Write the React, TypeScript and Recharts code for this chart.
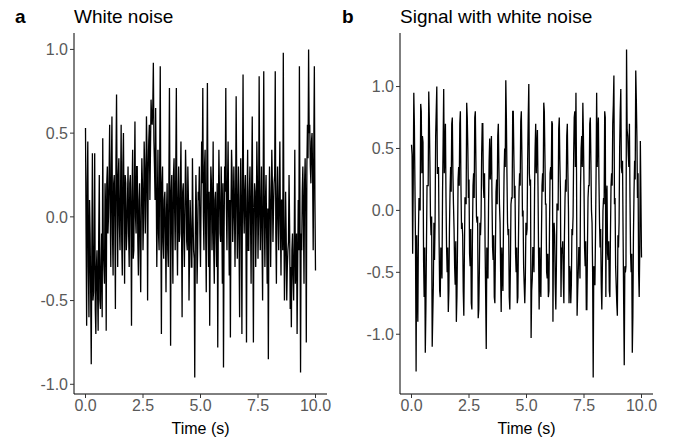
import { LineChart, Line, XAxis, YAxis } from 'recharts'

// sample spacing of both recordings (seconds); a half-step sample sits between each pair
const sampleStep = 0.05

const timeTicks = [0, 2.5, 5, 7.5, 10]
const ampTicks = [-1, -0.5, 0, 0.5, 1]

// panel a: white noise (at 0, 0.05, 0.10 ... s)
const whiteNoise = [
  0.53, -0.65, 0.45, -0.6, -0.1, -0.88, 0.38, -0.45, 0.38, -0.7,
  -0.2, -0.68, 0.25, -0.55, -0.1, 0.47, -0.3, 0.2, -0.68, 0.3,
  0.0, 0.55, -0.3, 0.6, -0.35, 0.25, -0.55, 0.73, -0.3, 0.35,
  -0.2, 0.55, -0.35, 0.5, -0.4, 0.2, -0.1, 0.3, -0.3, 0.25,
  -0.65, 0.4, -0.2, 0.57, -0.1, 0.3, -0.35, 0.2, -0.45, 0.35,
  -0.2, 0.45, -0.1, 0.6, -0.5, 0.45, 0.1, 0.7, 0.55, 0.92,
  0.3, 0.65, -0.3, 0.4, -0.2, 0.9, -0.7, 0.3, -0.25, 0.15,
  -0.45, 0.2, -0.3, 0.77, -0.77, 0.25, -0.4, 0.35, -0.2, 0.77,
  -0.35, 0.3, -0.1, 0.45, -0.6, 0.2, -0.3, 0.4, -0.15, 0.3,
  -0.5, 0.1, -0.3, 0.35, -0.2, -0.96, 0.25, -0.4, 0.15, 0.3,
  -0.3, 0.45, 0.77, -0.2, 0.4, -0.45, 0.8, -0.3, -0.65, 0.3,
  -0.2, 0.45, -0.4, 0.15, -0.3, -0.78, 0.4, -0.1, 0.3, -0.4,
  -0.9, 0.3, 0.77, -0.2, 0.45, -0.35, -0.72, 0.4, -0.15, 0.3,
  -0.3, 0.72, -0.25, 0.3, -0.6, 0.35, -0.7, 0.85, -0.1, 0.25,
  -0.75, 0.4, -0.2, 0.3, -0.4, 0.6, -0.75, 0.2, -0.3, 0.45,
  -0.25, 0.84, -0.2, 0.3, -0.5, 0.87, -0.3, 0.25, -0.4, -0.85,
  0.3, -0.3, 0.4, -0.15, 0.2, 0.87, -0.4, 0.3, -0.2, 0.45,
  -0.35, 0.1, 0.98, -0.5, 0.15, -0.5, -0.2, 0.25, -0.55, -0.66,
  -0.1, -0.5, 0.4, -0.3, -0.7, 0.1, 0.9, -0.93, -0.2, 0.3,
  -0.4, 0.35, -0.75, 0.55, 1.0, 0.55, 0.2, 0.5, -0.2, 0.9,
  -0.32,
]

// panel a, in-between samples (0.025, 0.075 ... s)
const whiteNoiseMid = [
  -0.1, 0.2, -0.3, 0.1, -0.45, -0.2, -0.5, -0.15, -0.55, -0.3,
  -0.45, -0.1, -0.5, -0.3, -0.6, -0.2, -0.4, 0.05, 0.2, -0.1,
  0.25, 0.05, 0.3, -0.1, 0.2, 0.0, 0.35, 0.1, 0.25, -0.05,
  0.15, -0.15, 0.3, 0.05, 0.25, -0.2, 0.1, -0.1, 0.2, 0.0,
  0.15, -0.25, 0.2, 0.0, 0.3, -0.15, 0.1, -0.2, 0.05, 0.2,
  0.0, 0.3, 0.15, 0.4, 0.25, 0.55, 0.4, 0.6, 0.65, 0.45,
  0.1, 0.2, 0.05, -0.1, 0.3, 0.0, 0.2, -0.15, 0.1, -0.1,
  0.05, -0.2, 0.2, 0.0, 0.15, -0.1, 0.25, 0.05, 0.3, -0.05,
  0.1, -0.15, 0.2, -0.05, 0.15, -0.1, 0.05, 0.2, -0.2, 0.1,
  -0.2, -0.05, -0.3, 0.0, -0.25, -0.1, 0.05, -0.2, 0.1, -0.1,
  0.1, 0.2, 0.0, 0.3, -0.1, 0.25, 0.05, 0.15, -0.05, 0.2,
  0.0, -0.2, 0.1, -0.1, 0.2, 0.0, 0.15, -0.15, 0.05, 0.2,
  -0.1, 0.15, 0.05, 0.2, 0.0, 0.1, 0.05, 0.25, 0.0, 0.1,
  0.05, 0.2, 0.0, -0.15, 0.1, 0.0, 0.2, 0.05, 0.15, -0.1,
  0.1, -0.2, 0.15, 0.0, 0.2, -0.1, 0.05, 0.15, -0.05, 0.2,
  0.0, 0.1, 0.05, -0.15, 0.2, 0.0, 0.1, -0.1, 0.05, 0.0,
  0.1, 0.0, 0.2, 0.05, 0.25, -0.1, 0.1, 0.0, 0.15, -0.05,
  0.1, -0.2, 0.0, -0.25, -0.1, -0.3, -0.15, -0.05, -0.3, -0.2,
  -0.35, -0.15, -0.4, -0.1, -0.3, -0.2, 0.0, -0.1, 0.15, 0.0,
  0.2, 0.05, 0.3, 0.35, 0.5, 0.3, 0.45, 0.25, 0.4, 0.1,
]

// panel b: signal with white noise (0, 0.05, 0.10 ... s)
const noisySignal = [
  0.53, -0.35, 0.95, 0.2, -1.3, -0.6, -0.2, 0.05, 0.86, 0.3,
  0.55, -0.7, -1.15, -0.3, 0.2, 0.96, 0.4, -0.2, -1.1, -0.6,
  -0.4, 0.6, 1.0, 0.3, -0.25, -0.7, -0.4, 0.15, 0.98, 0.45,
  0.1, -0.5, -0.82, -0.15, 0.35, 0.7, 0.3, -0.15, -0.6, -0.9,
  -0.3, 0.35, 0.7, 0.2, -0.1, -0.65, -0.35, 0.1, 0.87, 0.5,
  0.25, -0.45, -0.75, -0.2, 0.3, 0.75, 0.4, -0.1, -0.87, -0.5,
  -0.2, 0.45, 0.7, 0.1, -0.3, -1.12, -0.4, 0.05, 0.58, 0.4,
  0.1, -0.4, -0.7, -0.3, 0.25, 0.6, 0.35, -0.1, -0.82, -0.5,
  -0.1, 0.5, 1.05, 0.3, -0.2, -0.7, -0.45, 0.1, 0.8, 0.45,
  0.2, -0.5, -0.75, -0.25, 0.3, 0.72, 0.45, 0.0, -0.6, -0.55,
  -0.2, 0.4, 1.02, 0.2, -1.03, -0.55, -0.3, 0.15, 0.7, 0.5,
  0.2, -0.8, -0.6, -0.2, 0.3, 0.87, 0.45, 0.05, -0.55, -0.7,
  -0.15, 0.35, 0.72, -0.9, -0.1, -0.6, -0.45, 0.05, 0.66, 0.4,
  -0.7, -0.35, -0.55, -0.2, 0.25, 0.6, 0.3, -0.75, -0.5, -0.6,
  -0.2, 0.45, 0.8, 0.95, -0.85, -0.5, -0.3, 0.2, 0.6, 0.87,
  0.2, -0.45, -0.8, -0.3, 0.2, 0.7, 0.4, -0.1, -1.35, -0.6,
  -0.2, 0.95, 0.6, 0.25, -0.3, -0.6, -0.45, 0.1, 0.8, -0.7,
  0.2, -0.4, -0.65, -0.2, 0.3, 0.7, 1.09, 0.1, -0.6, -0.85,
  -0.3, 0.5, 0.98, 0.3, -0.2, -1.25, -0.5, 1.3, 0.6, 0.35,
  0.1, -0.5, -1.15, -0.2, 0.4, 1.13, 0.6, 0.3, -0.7, 0.56,
  -0.38,
]

// panel b, in-between samples (0.025, 0.075 ... s)
const noisySignalMid = [
  0.45, 0.2, 0.7, -0.3, -0.2, -0.9, 0.1, 0.0, 0.8, 0.6,
  -0.4, -0.3, -0.8, 0.2, 0.2, 0.75, -0.05, -0.05, -0.85, -0.1,
  -0.1, 0.8, 0.3, 0.35, -0.65, -0.3, -0.55, 0.55, 0.3, 0.7,
  -0.3, -0.3, -0.65, 0.15, 0.15, 0.75, 0.05, -0.45, -0.25, -0.7,
  0.25, 0.2, 0.8, -0.15, -0.2, -0.85, 0.1, 0.05, 0.75, 0.1,
  -0.35, -0.15, -0.8, 0.2, 0.1, 0.8, -0.05, -0.05, -0.8, -0.1,
  -0.05, 0.7, 0.2, 0.3, -0.7, -0.3, -0.55, 0.4, 0.25, 0.6,
  -0.3, -0.2, -0.75, 0.15, 0.05, 0.7, 0.05, -0.5, -0.3, -0.65,
  0.3, 0.35, 0.75, -0.1, -0.15, -0.8, 0.05, 0.1, 0.8, 0.1,
  -0.35, -0.3, -0.7, 0.15, 0.2, 0.8, -0.05, -0.45, -0.75, -0.1,
  -0.15, 0.75, 0.3, 0.25, -0.65, -0.3, -0.5, 0.5, 0.3, 0.65,
  -0.35, -0.3, -0.7, 0.2, 0.15, 0.8, 0.05, -0.5, -0.35, -0.65,
  0.3, 0.25, 0.7, -0.15, -0.2, -0.8, 0.05, 0.0, 0.75, 0.15,
  -0.3, -0.25, -0.75, 0.1, 0.15, 0.7, 0.0, -0.45, -0.75, -0.15,
  -0.05, 0.75, 0.35, 0.3, -0.65, -0.3, -0.55, 0.5, 0.35, 0.6,
  -0.3, -0.25, -0.8, 0.1, 0.2, 0.75, 0.0, -0.5, -0.45, -0.6,
  0.3, 0.35, 0.75, -0.1, -0.15, -0.8, 0.0, 0.05, 0.75, 0.1,
  -0.35, -0.25, -0.7, 0.2, 0.2, 0.85, 0.05, -0.45, -0.75, -0.2,
  -0.1, 0.8, 0.35, 0.4, -0.75, -0.45, -0.45, 0.65, 0.45, 0.7,
  -0.35, -0.35, -0.85, 0.15, 0.25, 0.9, 0.1, -0.5, -0.3, 0.1,
]

const font = '"Liberation Sans", Arial, sans-serif'
const tickStyle = { fill: '#595959', fontSize: 16, fontFamily: font }

// interleave the on-step and half-step samples into one time-ordered table
const toRows = (values: number[], mids: number[]) => {
  const rows: { t: number; v: number }[] = []
  values.forEach((v, i) => {
    rows.push({ t: Number((i * sampleStep).toFixed(3)), v })
    if (i < mids.length) {
      rows.push({ t: Number((i * sampleStep + sampleStep / 2).toFixed(3)), v: mids[i] })
    }
  })
  return rows
}

interface PanelProps {
  values: number[]
  mids: number[]
  yDomain: [number, number]
  left: number
  width: number
  margin: { top: number; right: number; bottom: number; left: number }
}

function Panel({ values, mids, yDomain, left, width, margin }: PanelProps) {
  return (
    <div style={{ position: 'absolute', left, top: 0 }}>
      <LineChart width={width} height={441} data={toRows(values, mids)} margin={margin}>
        <XAxis
          dataKey="t"
          type="number"
          domain={[-0.5, 10.5]}
          ticks={timeTicks}
          tickFormatter={(v) => v.toFixed(1)}
          tick={tickStyle}
          tickSize={4}
          tickMargin={2}
          height={44}
          axisLine={{ stroke: '#000', strokeWidth: 1 }}
          tickLine={{ stroke: '#333' }}
          label={{
            value: 'Time (s)',
            position: 'insideBottom',
            offset: 4,
            style: { fill: '#000', fontSize: 16, fontFamily: font },
          }}
        />
        <YAxis
          type="number"
          domain={yDomain}
          ticks={ampTicks}
          tickFormatter={(v) => v.toFixed(1)}
          tick={tickStyle}
          tickSize={4}
          tickMargin={2}
          width={44}
          axisLine={{ stroke: '#000', strokeWidth: 1 }}
          tickLine={{ stroke: '#333' }}
        />
        <Line
          type="linear"
          dataKey="v"
          stroke="#000"
          strokeWidth={1.3}
          dot={false}
          isAnimationActive={false}
        />
      </LineChart>
    </div>
  )
}

export default function App() {
  return (
    <div
      style={{
        position: 'absolute',
        left: 0,
        top: 0,
        width: 686,
        height: 441,
        background: '#fff',
        overflow: 'hidden',
      }}
    >
      <Panel
        values={whiteNoise}
        mids={whiteNoiseMid}
        yDomain={[-1.058, 1.098]}
        left={0}
        width={340}
        margin={{ top: 33, right: 13, bottom: 3, left: 30 }}
      />
      <Panel
        values={noisySignal}
        mids={noisySignalMid}
        yDomain={[-1.4825, 1.4325]}
        left={340}
        width={346}
        margin={{ top: 33, right: 33, bottom: 3, left: 16 }}
      />
      <svg
        width={686}
        height={441}
        style={{ position: 'absolute', left: 0, top: 0, pointerEvents: 'none' }}
      >
        <text x={15} y={23} fontFamily={font} fontSize={19} fontWeight="bold">
          a
        </text>
        <text x={74} y={23} fontFamily={font} fontSize={19}>
          White noise
        </text>
        <text x={342} y={23} fontFamily={font} fontSize={19} fontWeight="bold">
          b
        </text>
        <text x={400} y={23} fontFamily={font} fontSize={19}>
          Signal with white noise
        </text>
      </svg>
    </div>
  )
}
